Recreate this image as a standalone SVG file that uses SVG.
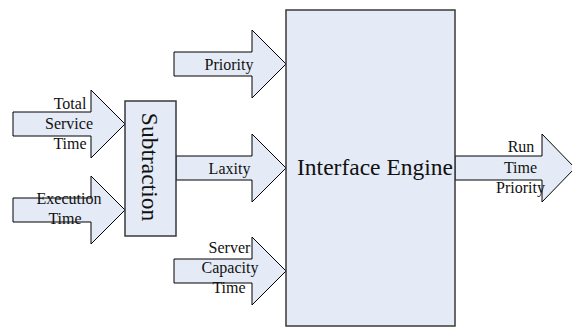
<svg xmlns="http://www.w3.org/2000/svg" width="572" height="327" viewBox="0 0 572 327">
<style>
.blk{fill:#E5EBF6;stroke:#000;stroke-width:1}
.box{fill:#E5EBF6;stroke:#3a3a3a;stroke-width:1.5}
text{fill:#111;text-anchor:middle}
.lbl{font-size:16px}
.big{font-size:23.5px}
</style>
<rect width="572" height="327" fill="#fff"/>
<g id="connectors" font-family="Liberation Serif, serif">
  <g id="arrow-total">
    <polygon class="blk" points="13,112 91,112 91,90 125,124 91,158 91,136 13,136"/>
    <text class="lbl" x="70" y="109">Total</text>
    <text class="lbl" x="69" y="129">Service</text>
    <text class="lbl" x="70" y="149">Time</text>
  </g>
  <g id="arrow-exec">
    <polygon class="blk" points="13,198 91,198 91,176 125,210 91,244 91,222 13,222"/>
    <text class="lbl" x="69" y="204">Execution</text>
    <text class="lbl" x="65" y="224">Time</text>
  </g>
  <g id="arrow-priority">
    <polygon class="blk" points="174,52 252,52 252,30 286,64 252,98 252,76 174,76"/>
    <text class="lbl" x="229" y="70">Priority</text>
  </g>
  <g id="arrow-laxity">
    <polygon class="blk" points="176,156 252,156 252,134 286,168 252,202 252,180 176,180"/>
    <text class="lbl" x="229.5" y="174">Laxity</text>
  </g>
  <g id="arrow-server">
    <polygon class="blk" points="174,259 252,259 252,237 286,271 252,305 252,283 174,283"/>
    <text class="lbl" x="229.5" y="253">Server</text>
    <text class="lbl" x="230" y="273">Capacity</text>
    <text class="lbl" x="229" y="293">Time</text>
  </g>
  <g id="arrow-output">
    <polygon class="blk" points="455,156 542,156 542,134 575,168 542,202 542,180 455,180"/>
    <text class="lbl" x="521" y="152">Run</text>
    <text class="lbl" x="520.5" y="173">Time</text>
    <text class="lbl" x="520.5" y="193">Priority</text>
  </g>
</g>
<g id="subtraction" font-family="Liberation Serif, serif">
  <rect class="box" x="125" y="101" width="51" height="135"/>
  <text class="big" transform="translate(142,167) rotate(90)" x="0" y="0">Subtraction</text>
</g>
<g id="interface-engine" font-family="Liberation Serif, serif">
  <rect class="box" x="286" y="10" width="169" height="316"/>
  <text class="big" x="375" y="175">Interface Engine</text>
</g>
</svg>
